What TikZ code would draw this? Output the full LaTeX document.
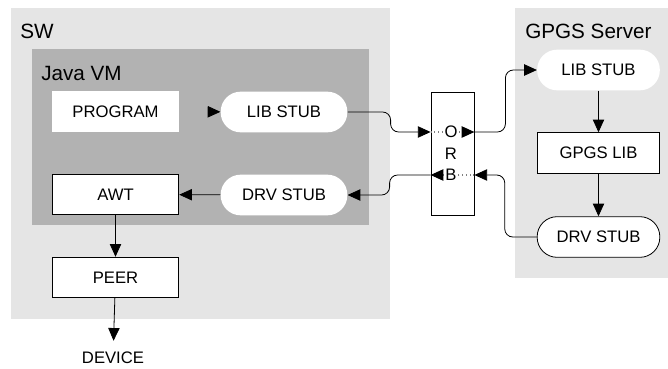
\documentclass[tikz,border=0pt]{standalone}
\usepackage{fontspec}
\setmainfont{Liberation Sans}
\usetikzlibrary{arrows.meta}
\definecolor{swgray}{gray}{0.9}
\definecolor{vmgray}{gray}{0.7}
\newcommand{\boxfont}{\fontsize{12.5}{14}\selectfont}
\newcommand{\regionfont}{\fontsize{15.5}{18}\selectfont}

\begin{document}
\begin{tikzpicture}[
    every node/.style={font=\boxfont},
    region/.style={anchor=base west, inner sep=0pt, font=\regionfont},
    box/.style={rectangle, fill=white, minimum width=95pt, minimum height=30.5pt},
    framed/.style={box, draw, line width=0.6pt},
    stub/.style={box, rounded corners=15pt},
    >={Triangle[length=9.5pt, width=8.5pt, color=black]},
    link/.style={->, line width=0.6pt},
    wire/.style={link, rounded corners=6pt},
    dots/.style={line width=0.8pt, dotted, gray},
  ]
    \pgfsetxvec{\pgfpoint{0.75pt}{0}}
    \pgfsetyvec{\pgfpoint{0}{-0.75pt}}
    \useasboundingbox (0,0) rectangle (668,368);

    % grey regions
    \fill[swgray] (11,8) rectangle (390,319);
    \fill[vmgray] (32,49) rectangle (369,225);
    \fill[swgray] (515,8) rectangle (668,278);
    \node[region] (sw) at (20,38) {SW};
    \node[region] (vm) at (41,80) {Java VM};
    \node[region] (srv) at (525,38) {GPGS Server};

    % client side
    \node[box] (prog) at (115.5,111.5) {PROGRAM};
    \node[stub] (libstub) at (284,112) {LIB STUB};
    \node[framed] (awt) at (115.5,194.5) {AWT};
    \node[stub] (drvstub) at (284,195) {DRV STUB};
    \node[framed] (peer) at (115.5,277.5) {PEER};
    \node (device) at (113,358) {DEVICE};

    % orb
    \node[framed, minimum width=32.25pt, minimum height=92.25pt] (orb) at (452.5,153.5) {};
    \node[inner sep=1pt] (o) at (451,132) {O};
    \node[inner sep=1pt] (r) at (451,154) {R};
    \node[inner sep=1pt] (b) at (451,175) {B};

    % server side
    \node[stub, minimum width=92pt] (libsrv) at (598.5,70) {LIB STUB};
    \node[framed, minimum width=92pt] (gpgslib) at (598.5,153) {GPGS LIB};
    \node[framed, stub, minimum width=92pt] (drvsrv) at (598.5,237) {DRV STUB};

    % connectors
    \draw[link, draw=vmgray] (prog) -- (libstub);
    \draw[link] (drvstub) -- (awt);
    \foreach \a/\b in {awt/peer, libsrv/gpgslib, gpgslib/drvsrv}
      \draw[link] (\a) -- (\b);
    \draw[link, shorten >=5pt] (peer) -- (device);

    \draw[wire] (libstub.east) -- ++(43,0) |- (orb.west |- o);
    \draw[dots] (orb.west |- o) -- (o.west);
    \draw[dots, ->] (o.east) -- (orb.east |- o);
    \draw[wire] (orb.east |- o) -- ++(31,0) |- (libsrv.west);

    \draw[wire] (drvsrv.west) -- ++(-32,0) |- (orb.east |- b);
    \draw[dots] (orb.east |- b) -- (b.east);
    \draw[dots, ->] (b.west) -- (orb.west |- b);
    \draw[wire] (orb.west |- b) -- ++(-41,0) |- (drvstub.east);
\end{tikzpicture}
\end{document}
